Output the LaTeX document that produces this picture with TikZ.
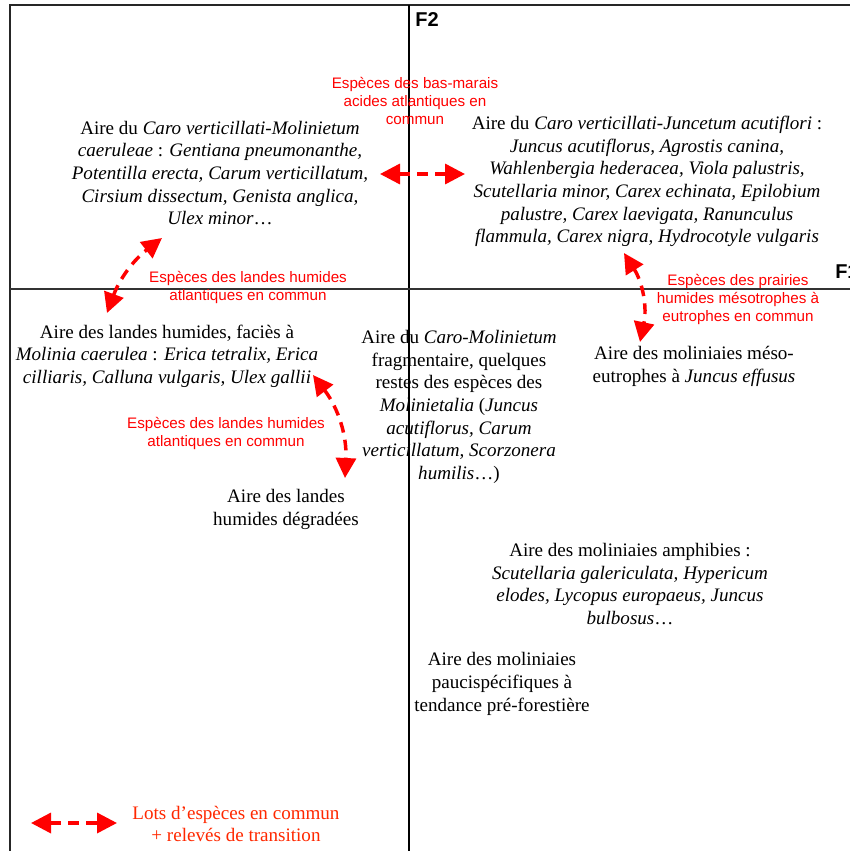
\documentclass[tikz,border=0pt]{standalone}
\usepackage{fontspec}
\setmainfont{Liberation Serif}
\newfontfamily\arialfont{Liberation Sans}
\usetikzlibrary{arrows.meta}
\definecolor{legred}{RGB}{255,40,0}
\begin{document}
\begin{tikzpicture}[x=0.75pt,y=-0.75pt,
  area/.style={align=center, font=\fontsize{14.3}{17}\selectfont, inner sep=0pt},
  lbl/.style={align=center, text=red, font=\arialfont\fontsize{11.4}{13.5}\selectfont, inner sep=0pt},
  axlbl/.style={font=\arialfont\bfseries\fontsize{15}{17}\selectfont, inner sep=0pt},
  frame/.style={line width=1.5pt, black!85},
  axisv/.style={line width=0.8pt, black},
  axish/.style={line width=1.4pt, black!80},
  link/.style={red, line width=2.6pt, dash pattern=on 8pt off 5.5pt,
    {Triangle[length=15pt,width=15pt]}-{Triangle[length=15pt,width=15pt]}},
]
\useasboundingbox (0,0) rectangle (850,851);
\clip (0,0) rectangle (850,851);
% frame and axes
\draw[frame] (10,851) -- (10,5) -- (850,5);
\draw[axisv] (409,5) -- (409,851);
\draw[axish] (10,289) -- (850,289);
\node[axlbl] (f2) at (427,20) {F2};
\node[axlbl, anchor=west] (f1) at (835,272) {F1};

% areas
\node[area] (A) at (220,173) {Aire du \textit{Caro verticillati-Molinietum}\\
\textit{caeruleae} : \textit{Gentiana pneumonanthe,}\\
\textit{Potentilla erecta, Carum verticillatum,}\\
\textit{Cirsium dissectum, Genista anglica,}\\
\textit{Ulex minor}…};
\node[area] (B) at (647,181.5) {Aire du \textit{Caro verticillati-Juncetum acutiflori} :\\
\textit{Juncus acutiflorus, Agrostis canina,}\\
\textit{Wahlenbergia hederacea, Viola palustris,}\\
\textit{Scutellaria minor, Carex echinata, Epilobium}\\
\textit{palustre, Carex laevigata, Ranunculus}\\
\textit{flammula, Carex nigra, Hydrocotyle vulgaris}};
\node[area] (C) at (167,356) {Aire des landes humides, faciès à\\
\textit{Molinia caerulea} : \textit{Erica tetralix, Erica}\\
\textit{cilliaris, Calluna vulgaris, Ulex gallii}};
\node[area] (D) at (286,509.5) {Aire des landes\\humides dégradées};
\node[area] (E) at (459,407) {Aire du \textit{Caro-Molinietum}\\
fragmentaire, quelques\\
restes des espèces des\\
\textit{Molinietalia} (\textit{Juncus}\\
\textit{acutiflorus, Carum}\\
\textit{verticillatum, Scorzonera}\\
\textit{humilis}…)};
\node[area] (F) at (694,366.5) {Aire des moliniaies méso-\\eutrophes à \textit{Juncus effusus}};
\node[area] (G) at (630,584) {Aire des moliniaies amphibies :\\
\textit{Scutellaria galericulata, Hypericum}\\
\textit{elodes, Lycopus europaeus, Juncus}\\
\textit{bulbosus}…};
\node[area] (H) at (502,684) {Aire des moliniaies\\paucispécifiques à\\tendance pré-forestière};

% red labels
\node[lbl] (l1) at (415,101) {Espèces des bas-marais\\acides atlantiques en\\commun};
\node[lbl] (l2) at (248,287) {Espèces des landes humides\\atlantiques en commun};
\node[lbl] (l3) at (738,299.5) {Espèces des prairies\\humides mésotrophes à\\eutrophes en commun};
\node[lbl] (l4) at (226,433.5) {Espèces des landes humides\\atlantiques en commun};

% arrow ends
\coordinate (ab1) at (380,174);
\coordinate (ab2) at (465,174);
\coordinate (ac1) at (107,313);
\coordinate (ac2) at (162,238);
\coordinate (cd1) at (313,375);
\coordinate (cd2) at (345,478);
\coordinate (bf1) at (624,253);
\coordinate (bf2) at (640,342);
\draw[link] (ab1) -- (ab2);
\draw[link] (ac1) to[bend left=16] (ac2);
\draw[link] (cd1) to[bend left=20] (cd2);
\draw[link] (bf1) to[bend left=22] (bf2);

% legend
\coordinate (lg1) at (31,823);
\coordinate (lg2) at (117,823);
\draw[link] (lg1) -- (lg2);
\node[area, text=legred] (leg) at (236,824) {Lots d’espèces en commun\\+ relevés de transition};
\end{tikzpicture}
\end{document}
